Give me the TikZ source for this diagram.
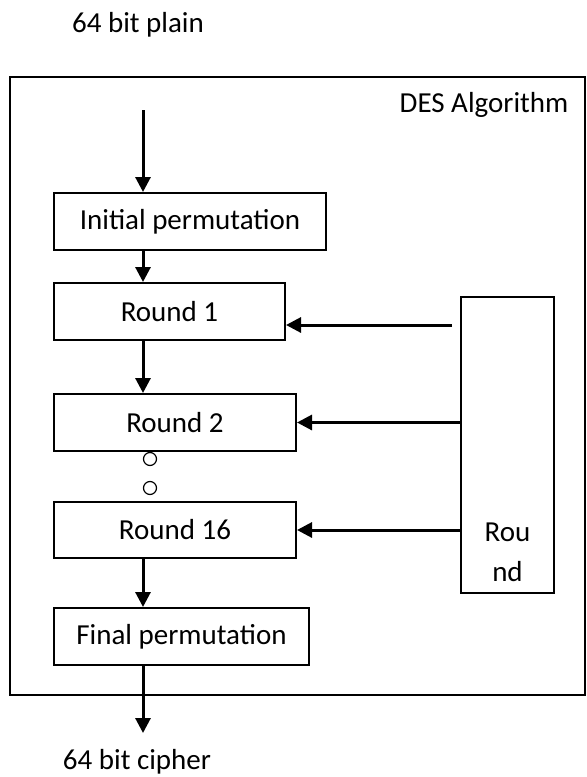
\documentclass[tikz,border=0pt]{standalone}
\usepackage{fontspec}
\setmainfont{Carlito}
\usetikzlibrary{arrows.meta}

\begin{document}
\begin{tikzpicture}[x=0.5pt, y=-0.5pt,
  every node/.style={font=\fontsize{14.5}{20}\selectfont, inner sep=0pt},
  boite/.style={draw, line width=1pt, minimum height=28.5pt},
  fleche/.style={line width=1.5pt, -{Triangle[length=7.5pt,width=7.5pt]}},
  rond/.style={draw, circle, line width=0.6pt, minimum size=6.5pt}]
\useasboundingbox (0,0) rectangle (587,777);

% Cadre de l'algorithme
\draw[line width=1pt] (10,77) rectangle (585,695);
\node (T) at (484,105) {DES Algorithm};

% Entrée et sortie
\node (P) at (138,25) {64 bit plain};
\node (C) at (137,762) {64 bit cipher};
\coordinate (E) at (143,110);
\coordinate (S) at (143,733);

% Boîtes des rondes
\node[boite, minimum width=136pt] (IP) at (190,221.5) {Initial permutation};
\node[boite, minimum width=115.5pt] (R1) at (169.5,311.5) {Round 1};
\node[boite, minimum width=121pt] (R2) at (175,422.5) {Round 2};
\node[boite, minimum width=121pt, minimum height=28pt] (R16) at (175,530) {Round 16};
\node[boite, minimum width=127.5pt] (FP) at (181.5,636.5) {Final permutation};

% Points de suspension
\node[rond] (O1) at (150,459) {};
\node[rond] (O2) at (150,488) {};

% Boîte des clés
\node[boite, minimum width=46.5pt, minimum height=148pt] (K) at (507.5,445) {};
\node[align=center] (KT) at (507.5,552) {Rou\\nd};
\coordinate (K1) at (452,325);

% Flèches verticales
\draw[fleche] (E) -- (E |- IP.north);
\draw[fleche] (E |- IP.south) -- (E |- R1.north);
\draw[fleche] (E |- R1.south) -- (E |- R2.north);
\draw[fleche] (E |- R16.south) -- (E |- FP.north);
\draw[fleche] (E |- FP.south) -- (S);

% Flèches des clés
\draw[fleche] (K1) -- (K1 -| R1.east);
\draw[fleche] (K.west |- R2.east) -- (R2.east);
\draw[fleche] (K.west |- R16.east) -- (R16.east);

\end{tikzpicture}
\end{document}
